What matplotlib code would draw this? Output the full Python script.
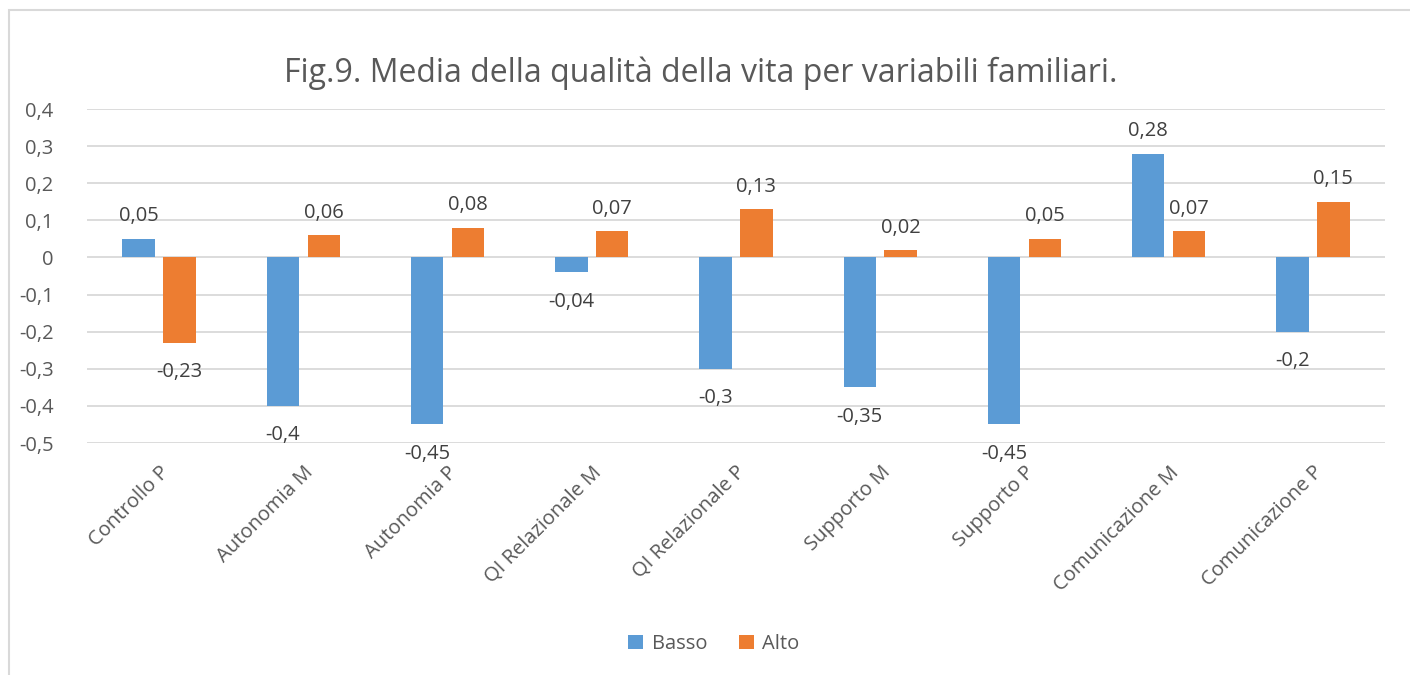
import matplotlib
matplotlib.use("Agg")
import matplotlib.pyplot as plt
from matplotlib.patches import Rectangle
import numpy as np

categories = ["Controllo P", "Autonomia M", "Autonomia P", "QI Relazionale M",
              "QI Relazionale P", "Supporto M", "Supporto P", "Comunicazione M",
              "Comunicazione P"]
basso = [0.05, -0.4, -0.45, -0.04, -0.3, -0.35, -0.45, 0.28, -0.2]
alto = [-0.23, 0.06, 0.08, 0.07, 0.13, 0.02, 0.05, 0.07, 0.15]
yticks = [0.4, 0.3, 0.2, 0.1, 0, -0.1, -0.2, -0.3, -0.4, -0.5]
title = "Fig.9. Media della qualità della vita per variabili familiari."

BLUE = "#5B9BD5"
ORANGE = "#ED7D31"
TXT = "#595959"
GRID = "#D9D9D9"

plt.rcParams["font.family"] = ["Open Sans", "DejaVu Sans"]

fig = plt.figure(figsize=(14.1, 6.75), dpi=100)
ax = fig.add_axes([87/1410, 1-443/675, (1385-87)/1410, (443-109)/675])

x = np.arange(len(categories))
w = 0.225
off = 0.142
b1 = ax.bar(x - off, basso, w, color=BLUE, label="Basso", zorder=3)
b2 = ax.bar(x + off, alto, w, color=ORANGE, label="Alto", zorder=3)

def fmt(v):
    return f"{v:g}".replace(".", ",")

for bars, vals in ((b1, basso), (b2, alto)):
    for rect, v in zip(bars, vals):
        cx = rect.get_x() + rect.get_width() / 2
        if v >= 0:
            ax.annotate(fmt(v), (cx, v), xytext=(0, 9), textcoords="offset points",
                        ha="center", va="bottom", fontsize=14.5, color="#404040")
        else:
            ax.annotate(fmt(v), (cx, v), xytext=(0, -14), textcoords="offset points",
                        ha="center", va="top", fontsize=14.5, color="#404040")

ax.set_xlim(-0.5, len(categories) - 0.5)
ax.set_ylim(-0.5, 0.4)
ax.set_yticks(yticks)
ax.set_yticklabels([fmt(round(t, 1)) for t in yticks], fontsize=14.5, color=TXT)
ax.yaxis.grid(True, color=GRID, linewidth=1.3, zorder=0)
ax.set_axisbelow(True)
ax.tick_params(axis="y", length=0, pad=24)
ax.tick_params(axis="x", length=0, pad=14)
ax.set_xticks(x)
ax.set_xticklabels(categories, rotation=45, ha="right", rotation_mode="anchor",
                   fontsize=14.5, color=TXT)
for s in ax.spines.values():
    s.set_visible(False)

fig.text(0.497, 1-73/675, title, ha="center", va="center", fontsize=23, color=TXT)

fig.legend(handles=[b1, b2], labels=["Basso", "Alto"], loc="center",
           bbox_to_anchor=(714/1410, 1-644/675), ncol=2, frameon=False,
           fontsize=14.5, labelcolor=TXT, handlelength=0.75, handleheight=0.75,
           handletextpad=0.4, columnspacing=1.6)

fig.patches.append(Rectangle((9/1410, -0.05), 1.1, 1-10/675+0.05,
                             transform=fig.transFigure, fill=False,
                             edgecolor=GRID, linewidth=1.5))

fig.savefig("out.png", dpi=100, facecolor="white")
